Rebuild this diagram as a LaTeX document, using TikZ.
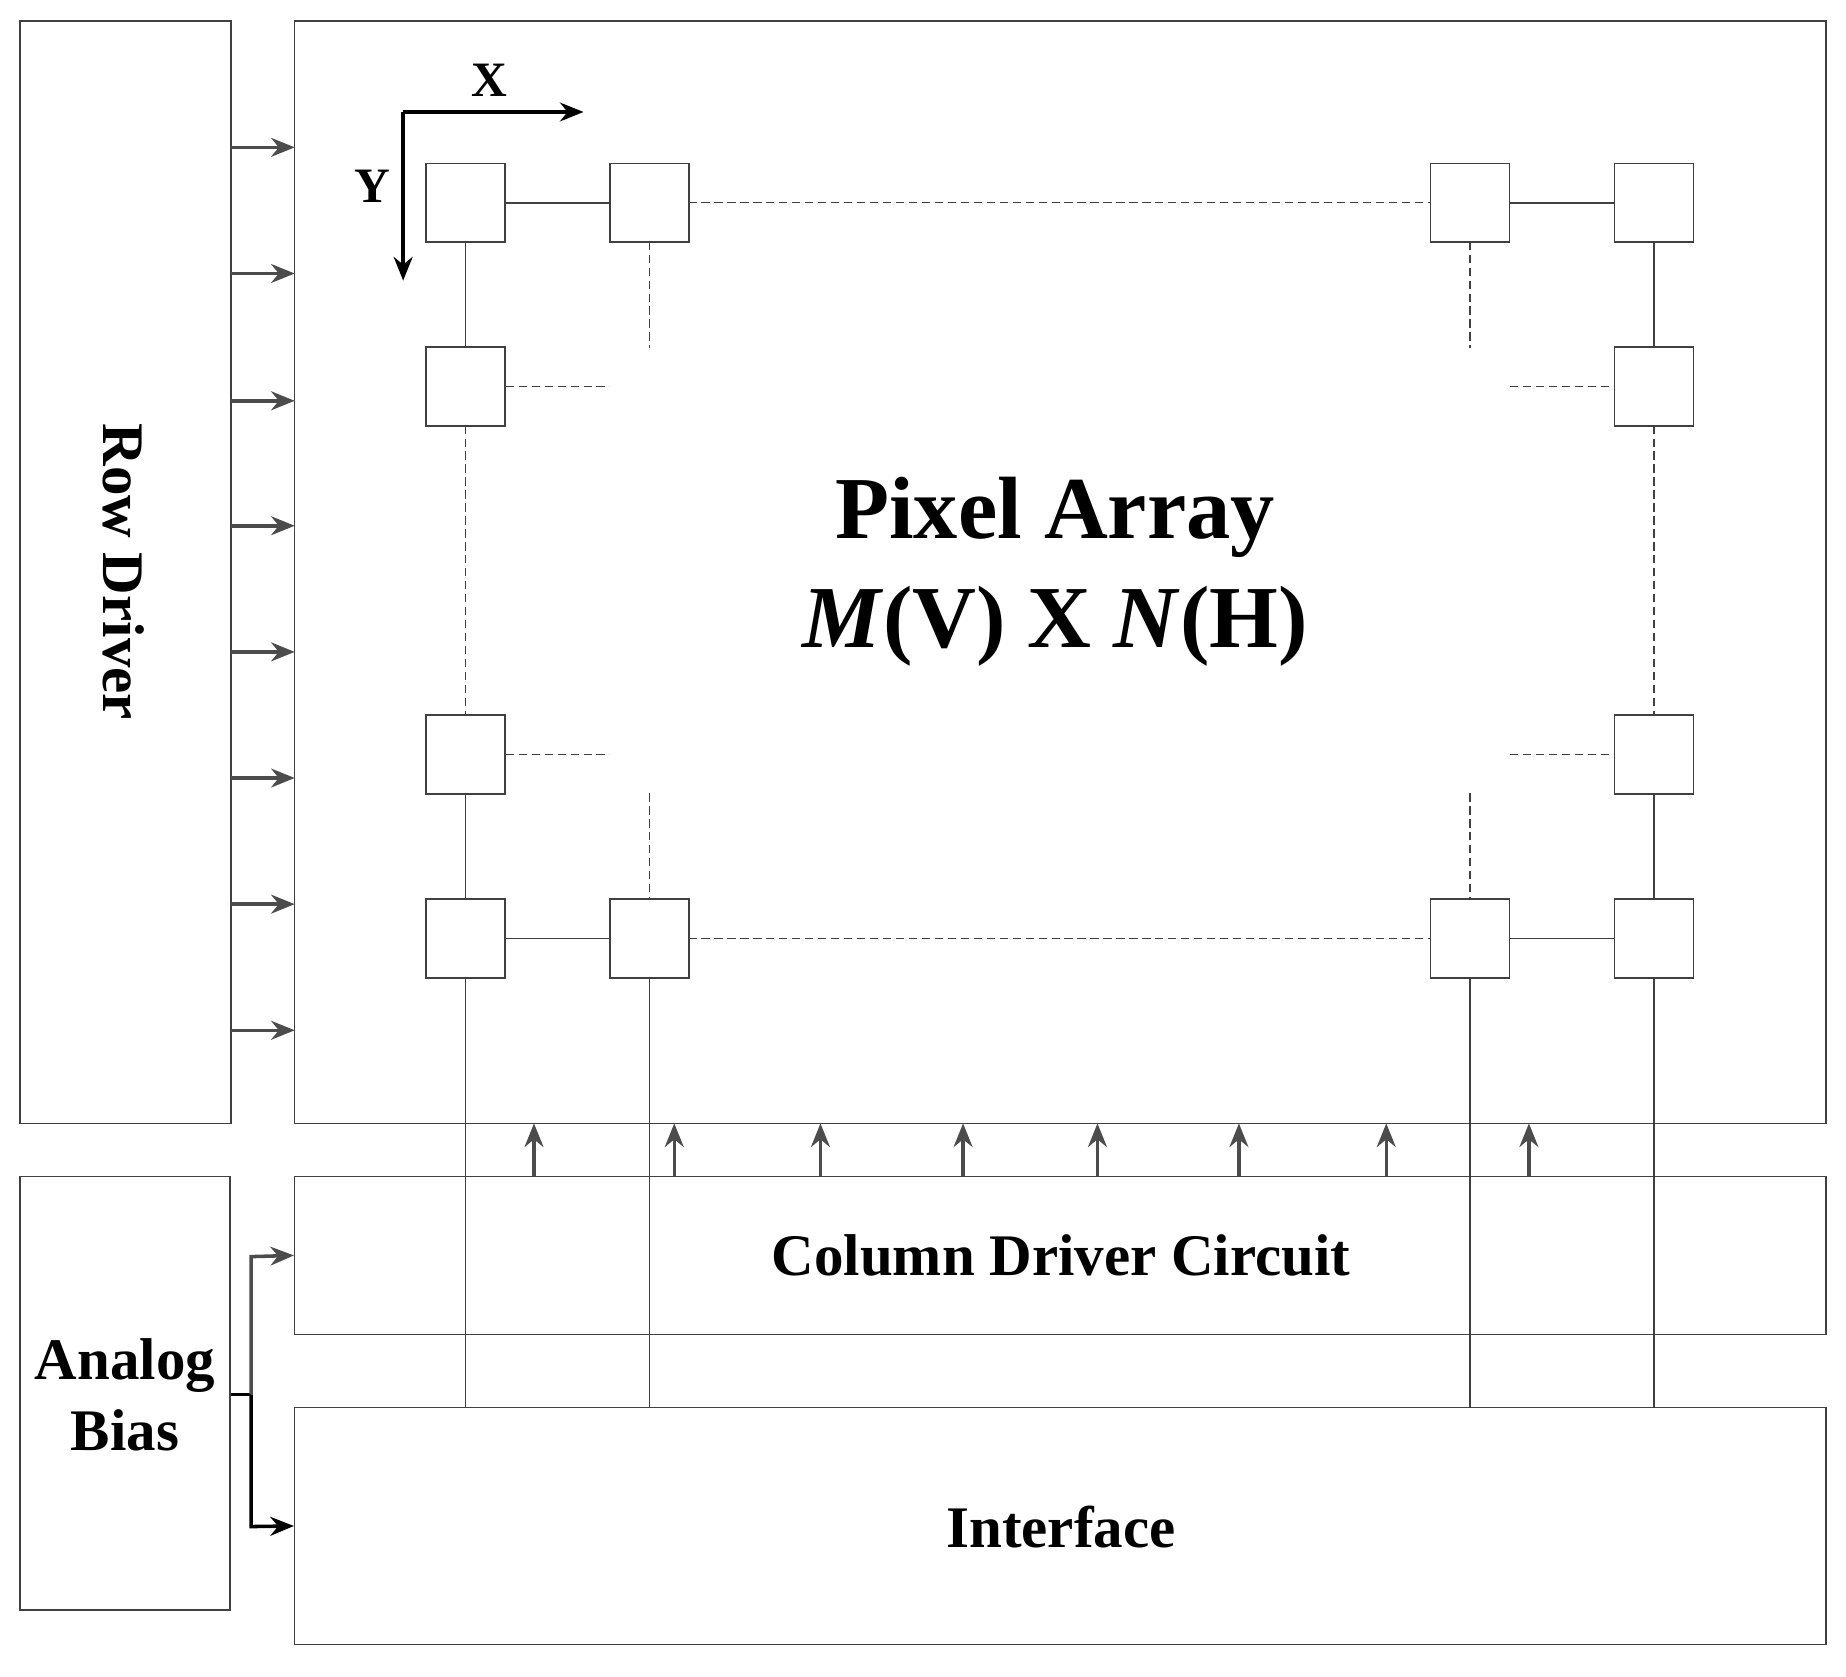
\documentclass[tikz,border=0pt]{standalone}
\usepackage{fontspec}
\setmainfont{Liberation Serif}
\usetikzlibrary{arrows.meta}
\begin{document}
\begin{tikzpicture}[x=1pt,y=-1pt,
  box/.style={draw=black!75,line width=1.3pt},
  px/.style={draw=black!75,line width=1.3pt,minimum size=67pt,inner sep=0pt,fill=white},
  ln/.style={draw=black!75,line width=1.3pt},
  dl/.style={draw=black!75,line width=1.1pt,dash pattern=on 7pt off 4pt},
  arr/.style={draw=black!70,line width=3pt,-{Stealth[length=20pt,width=16pt]}},
  barr/.style={draw=black,line width=3pt,-{Stealth[length=20pt,width=16pt]}},
  lab/.style={font=\bfseries\fontsize{50}{54}\selectfont}]
\useasboundingbox (0,0) rectangle (1566,1422);
\node[box,minimum width=179pt,minimum height=935pt] (rd) at (106.5,485.5) {};
\node[rotate=-90,lab] (rdt) at (105,485) {Row Driver};
\node[box,minimum width=1299pt,minimum height=935pt] (pa) at (899.5,485.5) {};
\node[box,minimum width=1299pt,minimum height=134pt] (cd) at (899.5,1065) {};
\node[box,minimum width=1299pt,minimum height=201pt] (if) at (899.5,1294.5) {};
\node[box,minimum width=178pt,minimum height=368pt] (ab) at (106,1182) {};
\node[lab] at (900,1065) {Column Driver Circuit};
\node[lab] at (900,1295) {Interface};
\node[lab,align=center,font=\bfseries\fontsize{50}{60}\selectfont] at (106,1183) {Analog\\Bias};
\node[font=\bfseries\fontsize{75}{92}\selectfont,align=center] at (895,485) {Pixel Array\\\textit{M}(V) X \textit{N}(H)};
% row arrows
\foreach \y in {125,232,340,446,553,660,767,874}{
  \coordinate (ra\y) at (196,\y); \coordinate (rb\y) at (250,\y);
  \draw[arr] (ra\y) -- (rb\y);}
% column arrows
\foreach \x in {453,572,696,817,931,1051,1176,1297}{
  \coordinate (ca\x) at (\x,998); \coordinate (cb\x) at (\x,953);
  \draw[arr] (ca\x) -- (cb\x);}
% axes
\coordinate (o) at (342,95); \coordinate (xe) at (495,95); \coordinate (ye) at (342,238);
\draw[barr] (o) -- (xe); \draw[barr] (o) -- (ye);
\node[font=\bfseries\fontsize{42}{46}\selectfont] at (415,68) {X};
\node[font=\bfseries\fontsize{42}{46}\selectfont] at (316,158) {Y};
% vertical column lines to interface
\foreach \x/\n in {395/a,551/b,1247/c,1403/d}{
  \coordinate (bot\n) at (\x,1194);
  \draw[ln] (\x,796) -- (bot\n);}
% grid lines
\draw[ln] (395,172) -- (551,172); \draw[dl] (551,172) -- (1247,172); \draw[ln] (1247,172) -- (1403,172);
\draw[ln] (395,796) -- (551,796); \draw[dl] (551,796) -- (1247,796); \draw[ln] (1247,796) -- (1403,796);
\draw[ln] (395,172) -- (395,328); \draw[dl] (395,328) -- (395,640); \draw[ln] (395,640) -- (395,796);
\draw[ln] (1403,172) -- (1403,328); \draw[dl] (1403,328) -- (1403,640); \draw[ln] (1403,640) -- (1403,796);
\draw[dl] (551,205) -- (551,295); \draw[dl] (1247,205) -- (1247,295);
\draw[dl] (551,673) -- (551,763); \draw[dl] (1247,673) -- (1247,763);
\draw[dl] (429,328) -- (517,328); \draw[dl] (1281,328) -- (1369,328);
\draw[dl] (429,640) -- (517,640); \draw[dl] (1281,640) -- (1369,640);
% pixels
\foreach \x/\y/\n in {395/172/p11,551/172/p12,1247/172/p13,1403/172/p14,395/328/p21,1403/328/p24,395/640/p31,1403/640/p34,395/796/p41,551/796/p42,1247/796/p43,1403/796/p44}
  \node[px] (\n) at (\x,\y) {};
% analog bias
\coordinate (j) at (213,1183);
\draw[line width=3pt] (ab.east |- j) -- (j);
\draw[arr] (j) -- (213,1066) -- (cd.west);
\draw[barr] (j) -- (213,1295) -- (if.west);
\end{tikzpicture}
\end{document}
